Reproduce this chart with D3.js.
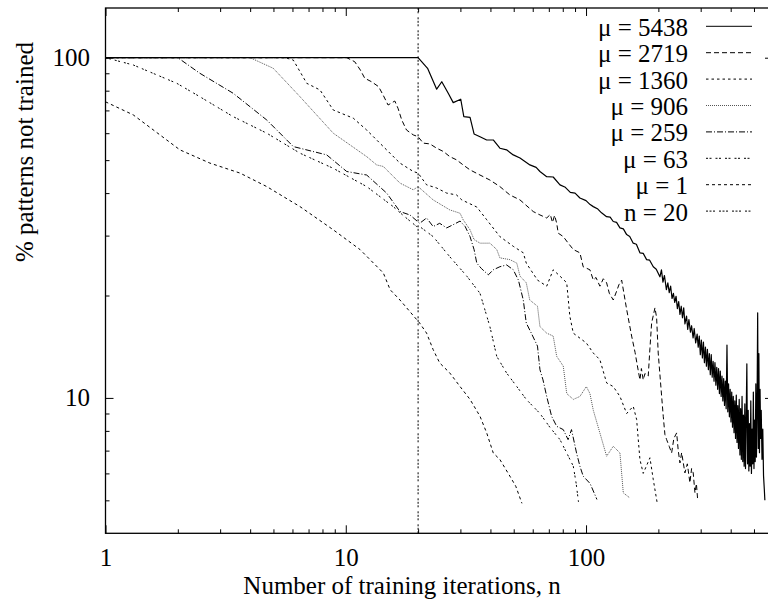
<!DOCTYPE html>
<html>
<head>
<meta charset="utf-8">
<script src="https://cdn.jsdelivr.net/npm/d3@7"></script>
<style>
  html, body { margin: 0; padding: 0; background: #fff; }
  svg { display: block; }
  text { font-family: "Liberation Serif", "Times New Roman", serif; fill: #000; }
</style>
</head>
<body>
<svg id="chart" width="768" height="605"></svg>
<script>
// Fraction of patterns still untrained vs. training iterations, one run per mu.
const xTickLabels = ["1", "10", "100"];
const yTickLabels = ["10", "100"];
const seriesNames = ["\u03bc = 5438", "\u03bc = 2719", "\u03bc = 1360", "\u03bc = 906",
                     "\u03bc = 259", "\u03bc = 63", "\u03bc = 1", "n = 20"];

const mu5438 = [[1,100],[20,100],[21.9,93.1],[23.9,80.8],[25.1,85.0],[26.7,78.6],[28.0,73.8],[30.1,75.5],
  [31.0,67.1],[32.9,66.8],[34.2,59.7],[36.2,58.6],[38.6,57.3],[41.1,57.3],[43.8,54.2],[46.7,53.6],
  [49.8,51.8],[53.1,50.7],[58.4,48.4],[62,47.6],[64.3,46.3],[68.6,44.7],[73.0,44.6],[77.9,42.3],
  [82,41.6],[86,40.2],[90,40.0],[94.3,38.7],[100,38.0],[104,37.0],[107.2,36.5],[112,35.9],[116,35.0],
  [121.8,34.1],[126,34.0],[129.8,33.0],[134,32.8],[138.4,31.6],[143,31.4],[147.6,30.2],[152,29.8],
  [157.2,28.5],[162,28.3],[167.6,26.7],[173,26.6],[178.7,25.5],[184,25.4],[190.5,24.3],[196,23.9],
  [203,22.7],[206,23.8],[209,21.9],[212,22.9],[216,20.8],[219,21.8],[222,20.4],[225,21.3],[228,19.6],
  [231,20.3],[234,19.1],[237,19.9],[240,18.3],[243,19.2],[246,17.6],[249,18.6],[252,17.2],[255,18.4],
  [258,16.5],[262,17.4],[265,15.9],[268,17.0],[272,15.6],[275,16.3],[279,15.0],[282,16.0],[286,14.5],
  [290,15.4],[293,14.1],[296,15.2],[299,13.4],[302,14.8],[305,13.1],[308,14.6],[311,12.7],[314,14.1],
  [317,12.4],[320,13.9],[323,12.1],[326,13.5],[329,11.7],[332,13.4],[335,11.5],[338,12.8],[341,11.2],
  [344,12.7],[347,10.9],[350,12.3],[353,10.6],[356,12.2],[359,10.3],[362,12.0],[365,10.1],[368,11.6],
  [371,9.8],[374,11.4],[377,9.5],[380,11.2],[383,9.3],[386,14.3],[389,9.1],[392,11.0],[395,8.8],
  [398,10.6],[401,8.5],[404,10.4],[407,8.2],[410,10.1],[413,7.9],[416,9.8],[419,7.6],[422,10.2],
  [425,7.4],[428,9.5],[431,7.1],[434,9.9],[437,6.8],[440,9.3],[443,6.6],[446,10.1],[449,6.5],
  [452,8.9],[455,6.3],[458,9.6],[461,6.2],[464,8.7],[467,12.6],[470,6.4],[473,9.2],[476,6.1],
  [479,8.4],[482,6.3],[485,9.8],[488,6.0],[491,8.1],[494,6.4],[497,10.4],[500,6.2],[503,8.6],
  [506,6.5],[509,11.0],[512,6.7],[515,9.4],[518,17.8],[521,7.1],[524,13.5],[527,6.9],[530,10.6],
  [533,7.6],[536,9.2],[540,6.6],[544,8.1],[548,5.9],[552,5.4],[555,5.0]];

const mu2719 = [[1,100],[10.1,100],[10.9,97.3],[11.5,92.0],[12.0,87.0],[12.8,85.0],[13.7,82.2],[14.3,77.7],
  [15.0,72.6],[16.0,74.6],[16.5,71.0],[17.1,65.6],[17.9,61.3],[19.1,59.3],[20.0,58.6],[21.0,56.1],
  [22.4,55.8],[23.9,54.2],[25.5,53.0],[27.1,51.2],[28.9,50.1],[30.8,48.4],[32.9,46.8],[36.2,45.2],
  [39.8,43.7],[43.8,41.8],[48.2,39.5],[53.1,38.2],[60.3,35.3],[64.3,34.5],[68.6,33.8],[71.0,34.6],
  [72.5,32.8],[74.0,34.4],[75.5,32.6],[76.6,30.5],[80.4,29.8],[84,28.6],[88.5,27.3],[94.3,26.7],
  [97.3,24.3],[103.8,23.8],[107.2,22.2],[110,22.6],[114.2,21.3],[118,22.4],[121.8,21.8],[125,20.3],
  [129.8,19.4],[134.1,20.6],[137,21.5],[140.7,22.2],[147.6,18.2],[154.8,15.2],[160,13.6],[163,12.6],
  [167.6,11.3],[170,12.2],[173,11.3],[175.9,11.8],[181.5,11.6],[184.5,14.0],[187.5,16.6],[193.6,18.4],
  [196.7,17.2],[199.7,13.55],[206.4,10.1],[209.6,8.83],[213,7.8],[216.5,7.54],[222,7.2],[227.1,6.89],
  [232,7.6],[238.3,7.89],[242,7.0],[246,6.44],[250,6.9],[258,6.02],[264,6.4],[270.6,5.63],[275,6.2],
  [279.3,6.02],[284,5.26],[288,5.6],[291.4,5.03]];

const mu1360 = [[1,100],[5.6,100],[6.05,98.4],[6.88,84.1],[7.81,80.4],[8.87,70.2],[10.75,66.4],[12.22,61.3],
  [14.33,54.8],[16.81,49.0],[19.1,46.3],[20,45.8],[21.7,42.3],[23.9,41.4],[26.3,40.0],[28.9,39.5],
  [30.4,38.2],[35.1,36.4],[38.6,33.4],[43.8,29.8],[49.8,27.9],[54.8,26.7],[56.4,24.9],[62.8,22.2],
  [68.6,21.3],[73.0,23.8],[77.9,22.8],[83.1,21.8],[85.6,17.4],[88.5,15.5],[100.3,14.5],[107.2,13.55],
  [114.2,12.95],[121.8,11.07],[129.8,10.8],[138.4,10.1],[147.6,9.0],[157.2,9.45],[162.4,8.64],
  [167.6,6.59],[173,6.0],[184.5,6.67],[190.5,5.75],[197.8,4.91]];

const mu906 = [[1,100],[4.0,100],[4.99,93.1],[6.45,76.8],[8.87,60.0],[12.22,51.2],[13.45,48.4],[14.33,47.9],
  [16.81,42.8],[19.1,40.9],[20,41.8],[23.1,38.2],[27.1,35.7],[29.9,34.9],[30.8,33.4],[32.9,31.2],
  [34.2,29.2],[36.2,28.5],[39.8,28.5],[42.5,27.3],[43.8,25.8],[48.2,25.5],[51.5,24.9],[53.1,22.8],
  [56.4,21.8],[58.3,19.4],[62.8,18.6],[64.3,16.2],[68.6,15.5],[73.0,15.2],[75.5,13.25],[80.4,12.4],
  [83.1,10.3],[88.5,9.9],[94.3,10.1],[100.3,10.8],[103.8,10.3],[107.2,9.2],[114.2,7.89],[121.8,6.74],
  [129.8,7.21],[138.4,6.89],[142.9,5.26],[152.3,5.08]];

const mu259 = [[1,100],[2.0,100],[2.47,90.0],[3.40,78.6],[4.69,65.6],[6.05,54.8],[8.33,51.8],[10.09,46.3],
  [12.22,45.2],[14.8,40.0],[16.81,35.3],[18.5,34.5],[20.3,32.6],[21.7,33.8],[23.1,31.9],[24.6,32.6],
  [26.3,31.6],[28.0,32.3],[29.9,33.1],[31.4,31.9],[32.9,29.8],[34.2,27.3],[35.1,24.9],[36.7,24.0],
  [39.2,23.0],[41.1,23.8],[43.8,24.3],[46.7,24.6],[49.8,23.8],[52.3,22.2],[54.8,19.4],[56.4,16.6],
  [59.2,15.5],[62.8,14.2],[64.3,12.1],[66.2,11.3],[68.6,10.1],[71.9,8.83],[75.5,8.25],[80.4,8.07],
  [84.2,7.54],[87.0,8.07],[91.3,6.89],[94.3,6.3],[97.3,5.89],[104,5.6],[111,5.03]];

const mu63 = [[1,100],[1.305,95.2],[1.98,84.1],[2.47,76.8],[3.40,67.1],[4.69,60.0],[6.45,52.4],[8.87,47.3],
  [12.22,41.8],[15.76,36.5],[17.5,34.2],[19.73,31.9],[20.3,31.9],[23.1,29.8],[27.1,26.0],[31.9,22.8],
  [36.2,20.3],[39.8,16.2],[42.5,13.25],[46.7,11.84],[51.5,10.8],[56.4,9.9],[64.3,9.0],[70.7,8.2],
  [77.9,7.54],[83.1,6.89],[88.5,6.3],[91,5.6],[93,4.95]];

const mu1 = [[1,74.2],[1.305,67.9],[2.04,53.6],[2.72,49.0],[3.63,45.8],[4.69,41.8],[6.45,36.5],[8.87,31.2],
  [11.46,27.3],[14.33,23.3],[15.3,20.8],[16.81,19.4],[20.3,16.6],[21.7,15.5],[23.1,13.87],[24.6,12.67],
  [27.1,11.84],[29.9,10.8],[32.9,9.9],[36.2,8.83],[38.6,7.89],[41.1,6.89],[43.8,6.59],[48.2,5.89],
  [51,5.5],[54.1,4.9]];

const markerN = [20];

const seriesData = [mu5438, mu2719, mu1360, mu906, mu259, mu63, mu1];
const dashes = ["none", "5,3", "2.5,3", "1,1", "6,2,1,2", "2,1.5,2,4", "3,3"];
const strokes = ["#000", "#000", "#000", "#555", "#000", "#000", "#000"];
const markerDash = "2,1.5,2,1.5,2,4";

const svg = d3.select("#chart");
const plotLeft = 105.5, plotRight = 773, plotTop = 8, plotBottom = 533.3;
const fontPx = "25px";

const x = d3.scaleLog().domain([1, 600]).range([plotLeft, plotRight]);
const y = d3.scaleLog().domain([4, 140]).range([plotBottom, plotTop]);

svg.append("defs").append("clipPath").attr("id", "plot")
  .append("rect").attr("x", plotLeft).attr("y", plotTop)
  .attr("width", plotRight - plotLeft).attr("height", plotBottom - plotTop);

// Tick values
const xMajor = xTickLabels.map(Number);
const xMinor = [2,3,4,5,6,7,8,9,20,30,40,50,60,70,80,90,200,300,400,500];
const yMajor = yTickLabels.map(Number);
const yMinor = [5,6,7,8,9,20,30,40,50,60,70,80,90];

function styleAxis(g) {
  g.select(".domain").remove();
  g.selectAll(".tick line").attr("stroke", "#000").attr("stroke-width", 1);
  g.selectAll(".tick text").style("font-family", "'Liberation Serif', serif")
    .style("font-size", fontPx).attr("fill", "#000");
}

// bottom
svg.append("g").attr("transform", `translate(0,${plotBottom})`)
  .call(d3.axisBottom(x).tickValues(xMajor).tickSize(-8).tickPadding(15).tickFormat((d, i) => xTickLabels[i]))
  .call(styleAxis);
svg.append("g").attr("transform", `translate(0,${plotBottom})`)
  .call(d3.axisBottom(x).tickValues(xMinor).tickSize(-4).tickFormat(""))
  .call(styleAxis);
// top
svg.append("g").attr("transform", `translate(0,${plotTop})`)
  .call(d3.axisTop(x).tickValues(xMajor).tickSize(-8).tickFormat(""))
  .call(styleAxis);
svg.append("g").attr("transform", `translate(0,${plotTop})`)
  .call(d3.axisTop(x).tickValues(xMinor).tickSize(-4).tickFormat(""))
  .call(styleAxis);
// left
svg.append("g").attr("transform", `translate(${plotLeft},0)`)
  .call(d3.axisLeft(y).tickValues(yMajor).tickSize(-8).tickPadding(15.5).tickFormat((d, i) => yTickLabels[i]))
  .call(styleAxis);
svg.append("g").attr("transform", `translate(${plotLeft},0)`)
  .call(d3.axisLeft(y).tickValues(yMinor).tickSize(-4).tickFormat(""))
  .call(styleAxis);
// right
svg.append("g").attr("transform", `translate(${plotRight},0)`)
  .call(d3.axisRight(y).tickValues(yMajor).tickSize(-8).tickFormat(""))
  .call(styleAxis);
svg.append("g").attr("transform", `translate(${plotRight},0)`)
  .call(d3.axisRight(y).tickValues(yMinor).tickSize(-4).tickFormat(""))
  .call(styleAxis);

// frame
svg.append("rect").attr("x", plotLeft).attr("y", plotTop)
  .attr("width", plotRight - plotLeft).attr("height", plotBottom - plotTop)
  .attr("fill", "none").attr("stroke", "#000").attr("stroke-width", 1.3);

// curves
const line = d3.line().x(d => x(d[0])).y(d => y(d[1]));
const plot = svg.append("g").attr("clip-path", "url(#plot)");

// vertical marker at n = 20
plot.selectAll("line.marker").data(markerN).join("line")
  .attr("x1", d => x(d)).attr("x2", d => x(d))
  .attr("y1", y(4)).attr("y2", y(140))
  .attr("stroke", "#000").attr("stroke-width", 1).attr("stroke-dasharray", markerDash);

seriesData.slice().reverse().forEach((s, ri) => {
  const i = seriesData.length - 1 - ri;
  plot.append("path").datum(s)
    .attr("d", line)
    .attr("fill", "none")
    .attr("stroke", strokes[i])
    .attr("stroke-width", i === 0 ? 1.2 : 1)
    .attr("stroke-linejoin", "round")
    .attr("stroke-dasharray", dashes[i]);
});

// legend
const legY0 = 26.3, legDy = 26.4;
const leg = svg.append("g");
seriesNames.forEach((name, i) => {
  const yy = legY0 + i * legDy;
  leg.append("text").attr("x", 688).attr("y", yy + 9.5).attr("text-anchor", "end")
    .style("font-size", fontPx).text(name);
  leg.append("line").attr("x1", 706).attr("x2", 752).attr("y1", yy).attr("y2", yy)
    .attr("stroke", i < 7 ? strokes[i] : "#000").attr("stroke-width", 1)
    .attr("stroke-dasharray", i < 7 ? dashes[i] : markerDash);
});

// axis titles
svg.append("text").attr("x", 402).attr("y", 594).attr("text-anchor", "middle")
  .style("font-size", fontPx).text("Number of training iterations, n");
svg.append("text").attr("transform", "translate(33,42) rotate(-90)")
  .attr("text-anchor", "end").style("font-size", fontPx).text("% patterns not trained");
</script>
</body>
</html>
